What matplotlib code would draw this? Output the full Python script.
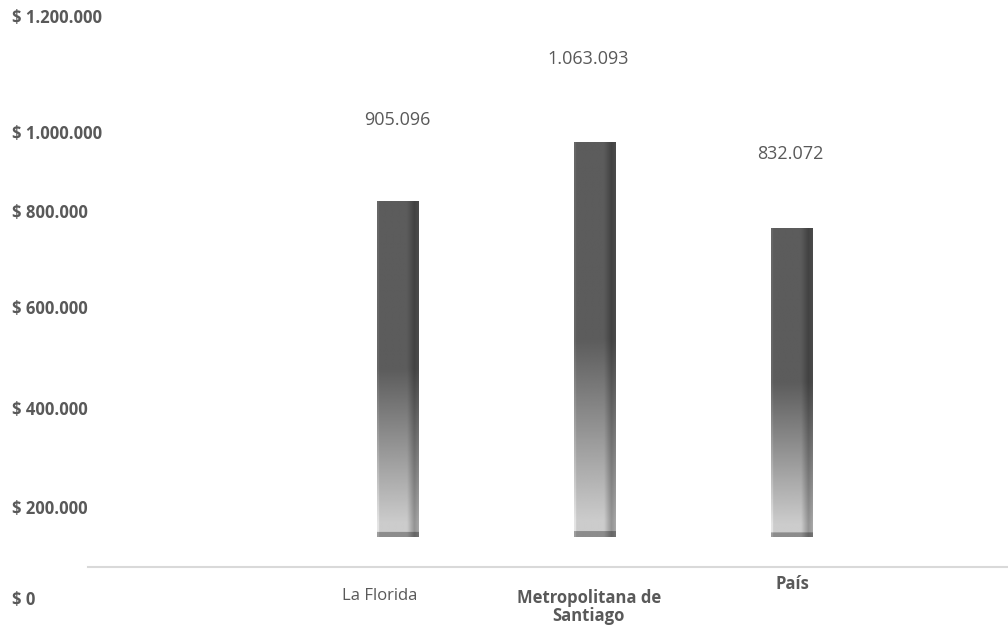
import matplotlib
matplotlib.use('Agg')
import matplotlib.pyplot as plt
import numpy as np

# data
categories = ['La Florida', 'Metropolitana de\nSantiago', 'País']
values = [905096, 1063093, 832072]
value_labels = ['905.096', '1.063.093', '832.072']
tick_labels = ['$ 0', '$ 200.000', '$ 400.000', '$ 600.000', '$ 800.000', '$ 1.000.000', '$ 1.200.000']

# layout (pixels in the 1008x625 canvas)
W, H = 1008, 625
tick_label_y_px = [600, 509, 410, 309, 213, 134, 18]
cat_offsets_px = [(-18, -29), (-6, -40), (0, -17)]
cat_weights = ['normal', 'bold', 'bold']
value_offsets_px = [(0, 81), (-7, 83), (-2, 74)]

plt.rcParams['font.family'] = ['Open Sans', 'DejaVu Sans']
txt = '#595959'

fig = plt.figure(figsize=(W / 100, H / 100), dpi=100)
ax = fig.add_axes([88 / W, (H - 567) / H, 1 - 88 / W, 567 / H])

x = np.arange(len(values))
width = 0.208
bars = ax.bar(x, values, width=width, facecolor='none', edgecolor='none')


def bar_shading(n_v=400, n_u=60):
	t = np.linspace(0, 1, n_v)[:, None]  # 0 top, 1 bottom
	u = np.linspace(0, 1, n_u)[None, :]
	vert = np.where(t < 0.5, 0.36, 0.36 + (t - 0.5) / 0.46 * 0.44)
	vert = np.where(t > 0.96, 0.80, vert)
	vert = np.where(t > 0.985, 0.55, vert)
	horiz = np.ones_like(u)
	horiz = np.where(u < 0.04, 1.12, horiz)
	horiz = np.where(u > 0.72, 1.0 - (u - 0.72) / 0.18 * 0.28, horiz)
	horiz = np.where(u > 0.9, 0.72 + (u - 0.9) / 0.1 * 0.1, horiz)
	return np.clip(vert * horiz, 0, 1)


img = bar_shading()
for b in bars:
	x0, w, h = b.get_x(), b.get_width(), b.get_height()
	im = ax.imshow(img, cmap='gray', vmin=0, vmax=1, aspect='auto',
				   extent=(x0, x0 + w, 0, h), interpolation='bilinear', zorder=2)
	im.set_clip_path(b)

# scale: bars start 30 px above the axis line
k = 1041 / sum(values)  # px per unit
ymin = -30 / k
ax.set_ylim(ymin, ymin + 567 / k)
ax.set_xlim((88 - 397.5) / 197.25, (1008 - 397.5) / 197.25)

for s in ['top', 'right', 'left']:
	ax.spines[s].set_visible(False)
ax.spines['bottom'].set_color('#d9d9d9')
ax.spines['bottom'].set_linewidth(1.5)
ax.set_xticks([])
ax.set_yticks([])
ax.patch.set_alpha(0)

for i, (v, lab) in enumerate(zip(values, value_labels)):
	dx, dy = value_offsets_px[i]
	ax.annotate(lab, xy=(x[i], v), xytext=(dx * 0.72, dy * 0.72), textcoords='offset points',
				ha='center', va='center', fontsize=13, color=txt)

for i, cat in enumerate(categories):
	dx, dy = cat_offsets_px[i]
	ax.annotate(cat, xy=(x[i], 0), xycoords=('data', 'axes fraction'),
				xytext=(dx * 0.72, dy * 0.72), textcoords='offset points',
				ha='center', va='center', fontsize=12,
				fontweight=cat_weights[i], color=txt, linespacing=0.95, annotation_clip=False)

for lab, ypx in zip(tick_labels, tick_label_y_px):
	fig.text(12 / W, 1 - ypx / H, lab, ha='left', va='center', fontsize=12,
			 fontweight='bold', color=txt)

fig.savefig('out.png', dpi=100)
